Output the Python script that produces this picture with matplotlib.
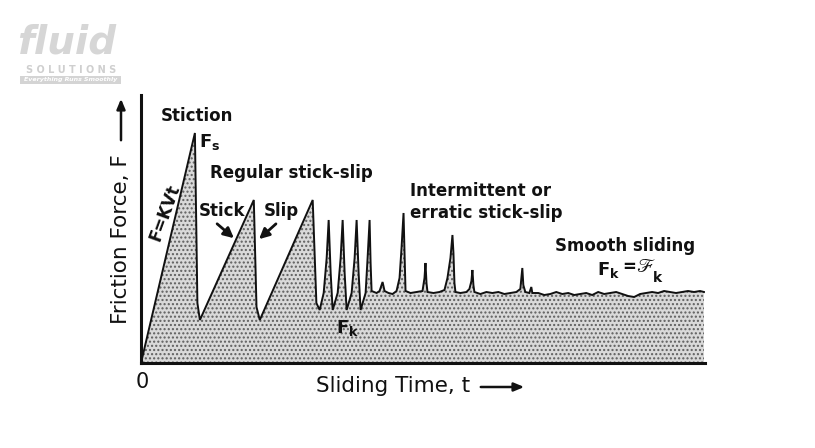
import matplotlib
matplotlib.use("Agg")
import matplotlib.pyplot as plt
from matplotlib.patches import FancyBboxPatch

plt.rcParams['font.family'] = ['DejaVu Sans']
plt.rcParams['mathtext.fontset'] = 'custom'
plt.rcParams['mathtext.bf'] = 'DejaVu Sans:bold'
plt.rcParams['mathtext.rm'] = 'DejaVu Sans'
plt.rcParams['hatch.linewidth'] = 1.0

# ---- data: friction force F versus sliding time t (arbitrary units) ----
time = [0, 54, 56.5, 59, 113, 115.7, 119, 172, 175.7, 179,
        183, 186, 188, 190, 192,
        197, 200, 202, 204, 206,
        211, 214, 216, 218, 220,
        225, 227, 229, 230, 231,
        236, 239, 242, 244, 248, 252, 256, 259, 261, 263, 264, 265,
        270, 276, 282, 284, 285, 286, 287, 293, 299, 304, 307, 310, 312, 313, 314, 315,
        320, 326, 329, 331, 332, 333, 334, 340, 346, 352, 358, 364, 370, 376, 380, 382,
        383, 385, 389, 391, 392, 398, 404, 410, 416, 422, 428, 434, 440, 446, 452, 458,
        464, 470, 476, 482, 488, 494, 500, 506, 512, 518, 524, 530, 536, 542, 548, 554,
        560, 564]
force = [0, 230, 60, 43, 163, 56, 43, 163, 60, 53,
         70, 105, 143, 90, 53,
         70, 105, 143, 90, 53,
         70, 105, 143, 90, 53,
         70, 105, 143, 100, 72,
         70, 72, 81, 72, 70, 69, 72, 85, 115, 150, 110, 72,
         70, 71, 72, 85, 100, 80, 71, 70, 71, 73, 85, 105, 128, 110, 80, 71,
         70, 71, 74, 82, 93, 78, 71, 69, 71, 70, 71, 69, 70, 71, 74, 95,
         78, 71, 70, 76, 70, 70, 68, 69, 71, 69, 70, 68, 69, 70, 68, 71,
         69, 70, 71, 69, 67, 66, 69, 70, 71, 70, 72, 71, 70, 71, 72, 71,
         72, 71]

W, H = 815, 448
fig = plt.figure(figsize=(W / 100, H / 100), dpi=100)

def fx(x):
    return x / W

def fy(y):
    return 1 - y / H

ax = fig.add_axes([fx(141), fy(363), 564 / W, 268 / H])
ax.fill_between(time, force, 0, facecolor='#d9d9d9', edgecolor='#5e5e5e',
                hatch='....', linewidth=0)
ax.plot(time, force, color='#111111', lw=1.4, solid_joinstyle='miter')
ax.set_xlim(0, 565)
ax.set_ylim(0, 268)
for s in ['top', 'right']:
    ax.spines[s].set_visible(False)
for s in ['left', 'bottom']:
    ax.spines[s].set_linewidth(2.2)
    ax.spines[s].set_color('#111111')
ax.set_xticks([])
ax.set_yticks([])

# axis labels and arrows
fig.text(fx(142), fy(382), '0', fontsize=15, ha='center', va='center', color='#111111')
fig.text(fx(316), fy(386), 'Sliding Time, t', fontsize=15.5, ha='left', va='center', color='#111111')
fig.text(fx(121), fy(239), 'Friction Force, F', fontsize=15.5, rotation=90,
         ha='center', va='center', color='#111111')
fig.add_artist(plt.Annotation('', xy=(fx(527), fy(387)), xytext=(fx(478), fy(387)),
                              xycoords='figure fraction', textcoords='figure fraction',
                              arrowprops=dict(arrowstyle='-|>,head_length=0.6,head_width=0.25',
                                              color='#111111', lw=1.8)))
fig.add_artist(plt.Annotation('', xy=(fx(121), fy(96)), xytext=(fx(121), fy(143)),
                              xycoords='figure fraction', textcoords='figure fraction',
                              arrowprops=dict(arrowstyle='-|>,head_length=0.6,head_width=0.25',
                                              color='#111111', lw=1.8)))

# annotations
bold = dict(fontsize=12, fontweight='bold', color='#111111', va='center')
fig.text(fx(161), fy(116), 'Stiction', ha='left', **bold)
fig.text(fx(199), fy(142), r'$\mathbf{F_s}$', ha='left', fontsize=13, color='#111111', va='center')
fig.text(fx(210), fy(173), 'Regular stick-slip', ha='left', **bold)
fig.text(fx(199), fy(211), 'Stick', ha='left', **bold)
fig.text(fx(264), fy(211), 'Slip', ha='left', **bold)
fig.text(fx(165), fy(213), 'F=KVt', ha='center', rotation=70, **bold)
fig.text(fx(410), fy(191), 'Intermittent or', ha='left', **bold)
fig.text(fx(410), fy(213), 'erratic stick-slip', ha='left', **bold)
fig.text(fx(555), fy(246), 'Smooth sliding', ha='left', **bold)
fig.text(fx(597), fy(270), r'$\mathbf{F_k}$', ha='left', fontsize=13, color='#111111', va='center')
fig.text(fx(622), fy(267), '=', ha='left', fontsize=12, fontweight='bold', color='#111111', va='center')
fig.text(fx(636), fy(267), 'ℱ', ha='left', fontsize=14, color='#111111', va='center',
         family=['STIXGeneral', 'DejaVu Sans'])
fig.text(fx(653), fy(278), 'k', ha='left', fontsize=10, fontweight='bold', color='#111111', va='center')
fig.text(fx(336), fy(328), r'$\mathbf{F_k}$', ha='left', fontsize=13, color='#111111', va='center')

for tail, head in [((215, 222), (236, 240)), ((278, 222), (257, 241))]:
    fig.add_artist(plt.Annotation('', xy=(fx(head[0]), fy(head[1])),
                                  xytext=(fx(tail[0]), fy(tail[1])),
                                  xycoords='figure fraction', textcoords='figure fraction',
                                  arrowprops=dict(arrowstyle='-|>,head_length=0.6,head_width=0.3',
                                                  color='#111111', lw=2)))

# watermark logo
fig.text(fx(17), fy(42), 'fluid', fontsize=28, fontweight='bold', style='italic',
         color='#d6d6d6', ha='left', va='center')
fig.text(fx(71), fy(70), 'S O L U T I O N S', fontsize=7, fontweight='bold',
         color='#cfcfcf', ha='center', va='center')
box = FancyBboxPatch((fx(20), fy(84)), fx(101), 8 / H, boxstyle='square,pad=0',
                     transform=fig.transFigure, facecolor='#d4d4d4', edgecolor='none')
fig.add_artist(box)
fig.text(fx(71), fy(80), 'Everything Runs Smoothly', fontsize=4.5, fontweight='bold',
         style='italic', color='white', ha='center', va='center')

fig.savefig('out.png', dpi=100)
